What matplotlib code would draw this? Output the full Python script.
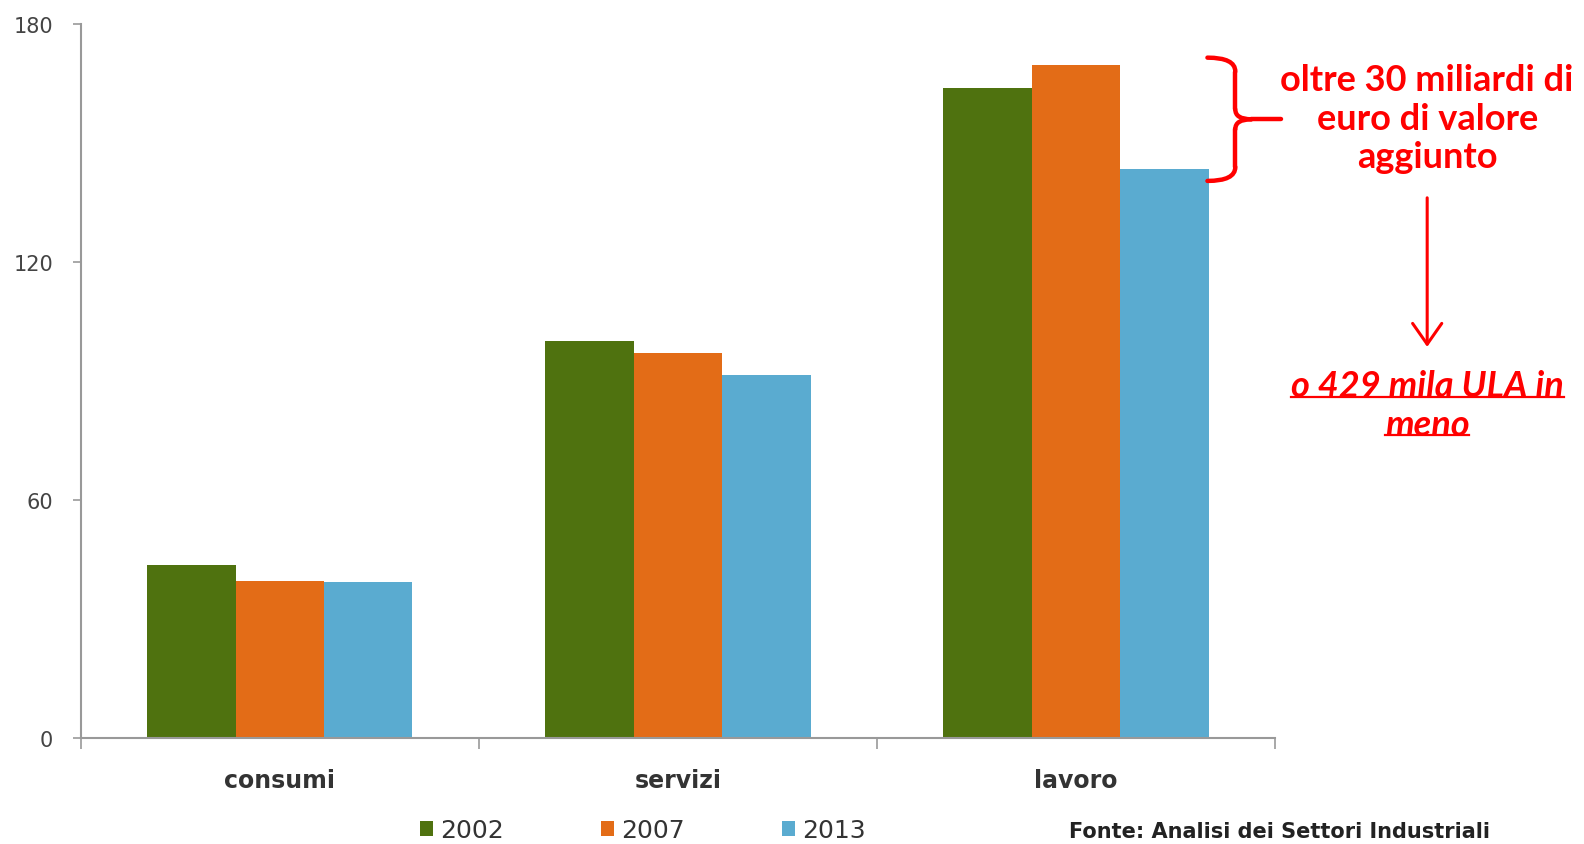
import matplotlib
matplotlib.use("Agg")
import matplotlib.pyplot as plt
import numpy as np
from matplotlib.path import Path
from matplotlib.patches import PathPatch, FancyArrowPatch
from matplotlib.lines import Line2D

categories = ["consumi", "servizi", "lavoro"]
years = ["2002", "2007", "2013"]
v2002 = [43.6, 100.2, 164.0]
v2007 = [39.5, 97.1, 169.8]
v2013 = [39.3, 91.5, 143.5]
yticks = [0, 60, 120, 180]
colors = ["#4f720f", "#e36c17", "#5aabd0"]

fig = plt.figure(figsize=(15.84, 8.45), dpi=100)
ax = fig.add_axes([0.051, 0.1256, 0.754, 0.8444])

x = np.arange(len(categories))
w = 0.222
for i, (vals, lab, c) in enumerate(zip([v2002, v2007, v2013], years, colors)):
    ax.bar(x + (i - 1) * w, vals, width=w, color=c, label=lab, linewidth=0)

ax.set_xlim(-0.5, 2.5)
ax.set_ylim(0, 180)
ax.set_yticks(yticks)
ax.set_yticklabels([str(t) for t in yticks], fontsize=15, color="#444444")
ax.set_xticks(x)
ax.set_xticklabels(categories, fontsize=17, fontweight="bold", color="#333333")
ax.tick_params(axis="x", length=0, pad=22)
ax.set_xticks([-0.5, 0.5, 1.5, 2.5], minor=True)
ax.tick_params(axis="x", which="minor", length=8, color="#999999", width=1.2)
ax.tick_params(axis="y", length=6, color="#999999", width=1.2, pad=14)
for s in ["top", "right"]:
    ax.spines[s].set_visible(False)
for s in ["left", "bottom"]:
    ax.spines[s].set_color("#999999")
    ax.spines[s].set_linewidth(1.5)

# legend
handles, labels = ax.get_legend_handles_labels()
fig.legend(handles, labels, loc="center", bbox_to_anchor=(0.406, 0.016), ncol=3,
           frameon=False, fontsize=18, handlelength=0.5, handleheight=0.5,
           handletextpad=0.3, columnspacing=3.9, labelcolor="#333333",
           borderpad=0.0)

# source
fig.text(0.675, 0.003, "Fonte: Analisi dei Settori Industriali", ha="left", va="bottom",
         fontsize=15, fontweight="bold", color="#222222")

red = "#ff0000"
# brace right of lavoro bars
ytop, ybot = v2007[2] + 1.8, v2013[2] - 3.0
ymid = (ytop + ybot) / 2
x0, x1, x2 = 2.33, 2.40, 2.515
brace_paths = [
    Path([(x0, ytop), (x1, ytop), (x1, ytop - 3.5)], [Path.MOVETO, Path.CURVE3, Path.CURVE3]),
    Path([(x1, ytop - 3.5), (x1, ymid + 2.5)], [Path.MOVETO, Path.LINETO]),
    Path([(x1, ymid + 2.5), (x1, ymid), (x1 + 0.04, ymid)], [Path.MOVETO, Path.CURVE3, Path.CURVE3]),
    Path([(x1 + 0.04, ymid), (x2, ymid)], [Path.MOVETO, Path.LINETO]),
    Path([(x1, ymid - 2.5), (x1, ymid), (x1 + 0.04, ymid)], [Path.MOVETO, Path.CURVE3, Path.CURVE3]),
    Path([(x1, ybot + 3.5), (x1, ymid - 2.5)], [Path.MOVETO, Path.LINETO]),
    Path([(x0, ybot), (x1, ybot), (x1, ybot + 3.5)], [Path.MOVETO, Path.CURVE3, Path.CURVE3]),
]
for p in brace_paths:
    ax.add_patch(PathPatch(p, facecolor="none", edgecolor=red, linewidth=3.2,
                           clip_on=False, capstyle="round"))

fig.text(0.901, 0.859, "oltre 30 miliardi di\neuro di valore\naggiunto", ha="center",
         va="center", multialignment="center", fontsize=26, fontweight="bold",
         color=red, family="Lato", linespacing=1.2)

arr = FancyArrowPatch((0.901, 0.768), (0.901, 0.585), transform=fig.transFigure,
                      arrowstyle="->,head_length=10,head_width=7", color=red,
                      linewidth=2.2, mutation_scale=1.5)
fig.patches.append(arr)

t1 = fig.text(0.901, 0.543, "o 429 mila ULA in", ha="center", va="center",
              fontsize=26, fontweight="bold", fontstyle="italic", color=red, family="Lato")
t2 = fig.text(0.901, 0.497, "meno", ha="center", va="center",
              fontsize=26, fontweight="bold", fontstyle="italic", color=red, family="Lato")

fig.canvas.draw()
r = fig.canvas.get_renderer()
inv = fig.transFigure.inverted()
for t in (t1, t2):
    bb = t.get_window_extent(r)
    (xa, ya), (xb, yb) = inv.transform([(bb.x0, bb.y0), (bb.x1, bb.y1)])
    yl = ya + 0.006
    fig.add_artist(Line2D([xa, xb], [yl, yl], transform=fig.transFigure, color=red, linewidth=1.6))

fig.savefig("out.png", dpi=100)
